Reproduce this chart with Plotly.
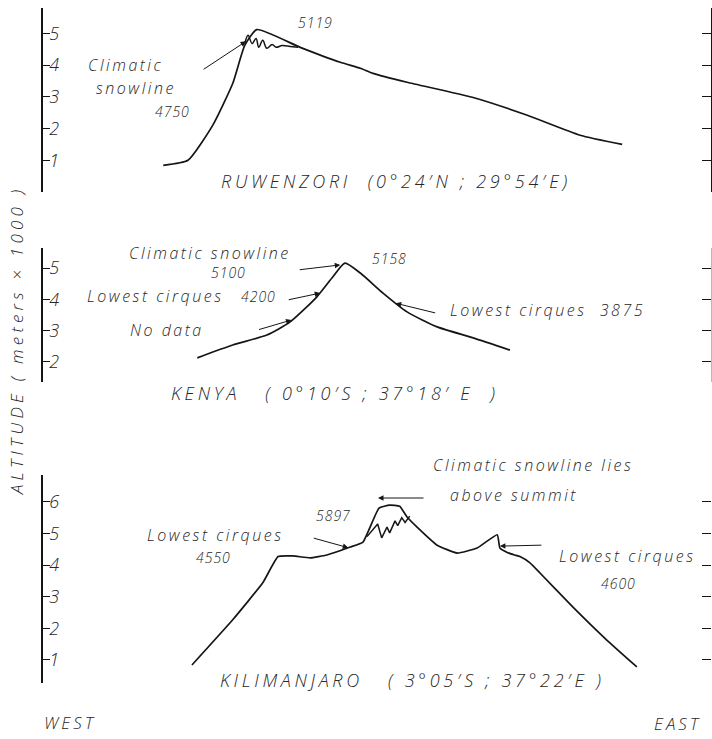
import plotly.graph_objects as go

# ---------------------------------------------------------------
# East-west topographic profiles of three East African mountains.
# Horizontal position is a relative distance (0-100) across each
# profile; altitudes are in thousands of metres.
# ---------------------------------------------------------------

# Ruwenzori
ruw_x = [18.0, 21.7, 25.4, 28.4, 30.2, 32.0, 38.5, 44.5, 47.5, 49.4, 54.5, 64.4, 72.5, 80.4, 86.7]
ruw_alt = [0.84, 1.00, 2.10, 3.42, 4.62, 5.119, 4.56, 4.09, 3.90, 3.74, 3.46, 2.98, 2.42, 1.79, 1.50]
# glacier cover below the summit
ruw_ice_x = [30.2, 30.7, 31.3, 31.9, 32.3, 32.9, 33.5, 34.3, 34.9, 35.8, 37.0, 38.2]
ruw_ice_alt = [4.68, 4.94, 4.68, 4.84, 4.56, 4.78, 4.53, 4.65, 4.56, 4.62, 4.59, 4.56]

# Mount Kenya
ken_x = [23.1, 28.4, 33.5, 37.0, 41.0, 43.4, 45.2, 47.5, 50.9, 54.5, 59.0, 64.4, 69.9]
ken_alt = [2.13, 2.54, 2.86, 3.28, 4.08, 4.72, 5.158, 4.84, 4.20, 3.60, 3.12, 2.77, 2.38]

# Kilimanjaro
kil_x = [22.3, 28.4, 32.9, 35.2, 37.4, 40.0, 42.5, 46.0, 47.9, 50.3, 51.9, 53.4, 54.5, 56.0,
         59.0, 62.0, 65.0, 68.0, 68.4, 69.5, 70.6, 71.4, 72.9, 74.4, 79.3, 84.4, 88.9]
kil_alt = [0.84, 2.27, 3.44, 4.27, 4.29, 4.23, 4.32, 4.57, 4.73, 5.80, 5.897, 5.86, 5.52, 5.20,
           4.63, 4.38, 4.54, 4.96, 4.54, 4.40, 4.32, 4.27, 4.07, 3.75, 2.68, 1.63, 0.78]
kil_ice_x = [48.5, 50.1, 50.7, 51.5, 51.9, 52.7, 53.1, 53.7, 54.2, 54.9]
kil_ice_alt = [4.90, 5.30, 4.86, 5.20, 5.02, 5.40, 5.25, 5.50, 5.35, 5.55]

# Annotated altitudes (thousands of metres) and where they sit on the profile
ruw_snowline = (30.4, 4.75)
ken_snowline = (44.5, 5.10)
ken_cirque_w = (41.5, 4.20)
ken_nodata = (37.2, 3.34)
ken_cirque_e = (52.8, 3.875)
kil_cirque_w = (45.7, 4.55)
kil_cirque_e = (68.4, 4.60)

ruw_ticks = [1, 2, 3, 4, 5]
ken_ticks = [2, 3, 4, 5]
kil_ticks = [1, 2, 3, 4, 5, 6]

W, H = 712, 739
INK = "#151515"
TEXT_INK = "#262626"
FONT = "Open Sans, DejaVu Sans, sans-serif"


def px(x):
    return x / W


def py(y):
    return 1 - y / H


fig = go.Figure()

line_style = dict(color=INK, width=1.7)
fig.add_trace(go.Scatter(x=ruw_x, y=ruw_alt, mode="lines", line=dict(shape="spline", smoothing=0.5, **line_style),
                         xaxis="x", yaxis="y", showlegend=False, hoverinfo="skip"))
fig.add_trace(go.Scatter(x=ruw_ice_x, y=ruw_ice_alt, mode="lines", line=dict(shape="spline", smoothing=1.0, color=INK, width=1.5),
                         xaxis="x", yaxis="y", showlegend=False, hoverinfo="skip"))
fig.add_trace(go.Scatter(x=ken_x, y=ken_alt, mode="lines", line=dict(shape="spline", smoothing=0.6, **line_style),
                         xaxis="x2", yaxis="y2", showlegend=False, hoverinfo="skip"))
fig.add_trace(go.Scatter(x=kil_x, y=kil_alt, mode="lines", line=dict(shape="spline", smoothing=0.4, **line_style),
                         xaxis="x3", yaxis="y3", showlegend=False, hoverinfo="skip"))
fig.add_trace(go.Scatter(x=kil_ice_x, y=kil_ice_alt, mode="lines", line=dict(color=INK, width=1.5),
                         xaxis="x3", yaxis="y3", showlegend=False, hoverinfo="skip"))

x_dom = [px(43), px(711)]


def left_axis(dom, rng, ticks, anchor):
    return dict(domain=dom, range=rng, anchor=anchor, tickvals=ticks, ticktext=[str(t) for t in ticks],
                showline=True, linecolor=INK, linewidth=1.5, ticks="inside", ticklen=7,
                tickwidth=1.3, tickcolor=INK, ticklabelposition="inside", showgrid=False,
                zeroline=False, tickfont=dict(family=FONT, size=18, color=TEXT_INK, style="italic", weight=300))


def right_axis(over, rng, ticks, line, lcolor):
    return dict(overlaying=over, side="right", range=rng, tickvals=ticks, showticklabels=False,
                showline=line, linecolor=lcolor, linewidth=1.3, ticks="inside", ticklen=9,
                tickwidth=1.3, tickcolor=INK, showgrid=False, zeroline=False)


dom1 = [py(192), py(8)]
dom2 = [py(382), py(248)]
dom3 = [py(683), py(475)]
rng1 = [0.0, 5.8]
rng2 = [1.36, 5.64]
rng3 = [0.27, 6.85]

xa = dict(domain=x_dom, range=[0, 100], visible=False, fixedrange=True)

fig.update_layout(
    width=W, height=H, margin=dict(l=0, r=0, t=0, b=0),
    paper_bgcolor="white", plot_bgcolor="white",
    xaxis=dict(anchor="y", **xa),
    xaxis2=dict(anchor="y2", **xa),
    xaxis3=dict(anchor="y3", **xa),
    yaxis=left_axis(dom1, rng1, ruw_ticks, "x"),
    yaxis2=left_axis(dom2, rng2, ken_ticks, "x2"),
    yaxis3=left_axis(dom3, rng3, kil_ticks, "x3"),
    yaxis4=dict(anchor="x", **right_axis("y", rng1, ruw_ticks, True, INK)),
    yaxis5=dict(anchor="x2", **right_axis("y2", rng2, ken_ticks, True, "#b8b8b8")),
    yaxis6=dict(anchor="x3", **right_axis("y3", rng3, kil_ticks, False, INK)),
)

# keep the overlaid right-hand axes drawn
for ya, xr in (("y4", "x"), ("y5", "x2"), ("y6", "x3")):
    fig.add_trace(go.Scatter(x=[None], y=[None], xaxis=xr, yaxis=ya, showlegend=False, hoverinfo="skip"))

annotations = []


def label(text, x, y, size=16, xanchor="center", angle=0, spacing=2.5):
    annotations.append(dict(text=f'<span style="letter-spacing:{spacing}px">{text}</span>',
                            x=px(x), y=py(y), xref="paper", yref="paper",
                            xanchor=xanchor, yanchor="middle", showarrow=False, textangle=angle,
                            font=dict(family=FONT, size=size, color=TEXT_INK, style="italic", weight=300)))


def pointer(xa_, ya_, target, ax, ay):
    annotations.append(dict(text="", x=target[0], y=target[1], xref=xa_, yref=ya_,
                            ax=ax, ay=ay, showarrow=True, arrowhead=2, arrowsize=1.1,
                            arrowwidth=1, arrowcolor=INK, standoff=0, startstandoff=0))


# Ruwenzori
label("5119", 315, 22, size=14, spacing=1)
label("Climatic", 126, 65)
label("snowline", 136, 88)
label("4750", 172, 112, size=14, spacing=1)
label("RUWENZORI  (0°24′N ; 29°54′E)", 396, 181, size=18, spacing=3.7)
pointer("x", "y", ruw_snowline, -44, 29)

# Kenya
label("Climatic snowline", 210, 253)
label("5100", 228, 272, size=14, spacing=1)
label("Lowest cirques", 85, 296, xanchor="left")
label("4200", 258, 296, size=14, spacing=1)
label("No data", 167, 330)
label("5158", 389, 258, size=14, spacing=1)
label("Lowest cirques  3875", 448, 310, xanchor="left")
label("KENYA   ( 0°10′S ; 37°18′ E  )", 335, 393, size=18, spacing=3.7)
pointer("x2", "y2", ken_snowline, -42, 5)
pointer("x2", "y2", ken_cirque_w, -33, 7)
pointer("x2", "y2", ken_nodata, -34, 10)
pointer("x2", "y2", ken_cirque_e, 41, 10)

# Kilimanjaro
label("Climatic snowline lies", 533, 465)
label("above summit", 514, 495)
label("5897", 333, 515, size=14, spacing=1)
label("Lowest cirques", 215, 535)
label("4550", 213, 557, size=14, spacing=1)
label("Lowest cirques", 627, 556)
label("4600", 618, 583, size=14, spacing=1)
label("KILIMANJARO   ( 3°05′S ; 37°22′E )", 412, 680, size=18, spacing=3.7)
pointer("x3", "y3", kil_cirque_w, -36, -10)
pointer("x3", "y3", kil_cirque_e, 43, -1)
annotations.append(dict(text="", x=px(378), y=py(498), xref="paper", yref="paper", ax=47, ay=0,
                        showarrow=True, arrowhead=2, arrowsize=1.1, arrowwidth=1, arrowcolor=INK,
                        standoff=0, startstandoff=0))

# Orientation and shared altitude title
label("WEST", 42, 722, size=17, xanchor="left", spacing=3)
label("EAST", 703, 723, size=17, xanchor="right", spacing=3)
label("ALTITUDE ( meters × 1000 )", 16, 341, size=17, angle=-90, spacing=4.2)

fig.update_layout(annotations=annotations)

fig.write_html("out.html")
